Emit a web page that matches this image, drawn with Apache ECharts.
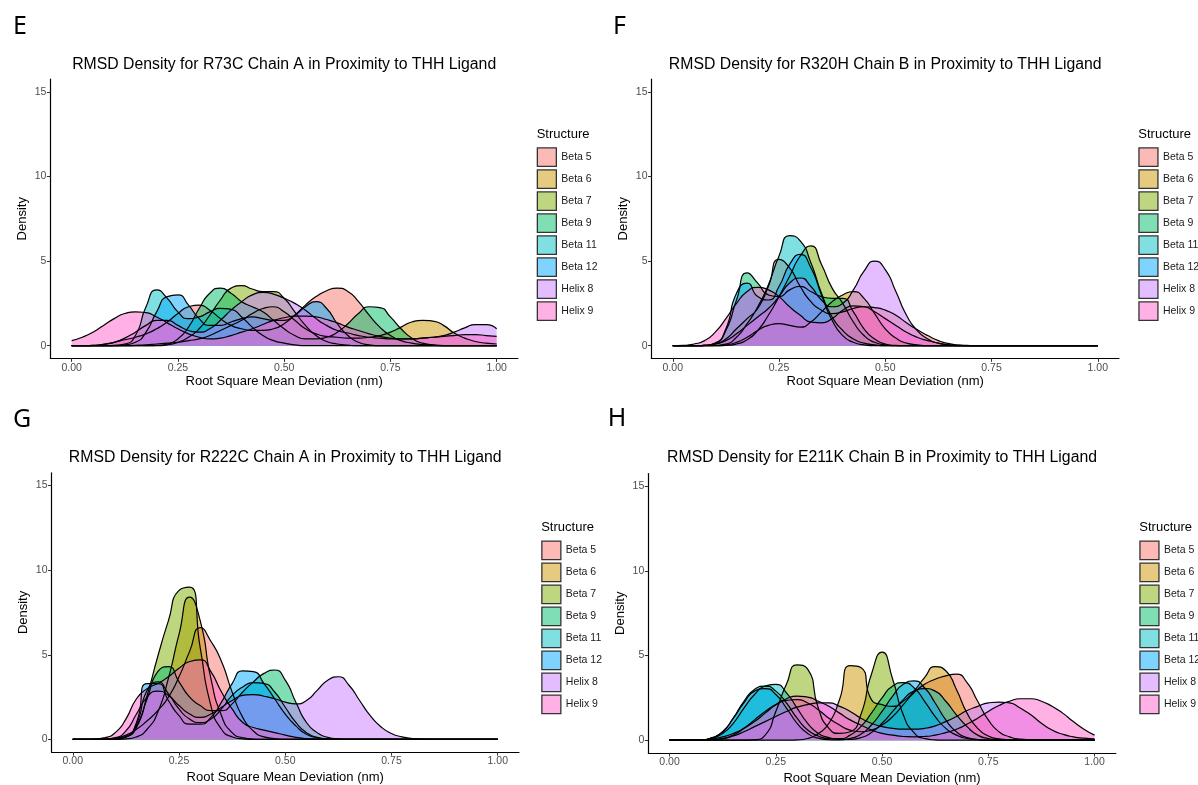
<!DOCTYPE html>
<html>
<head>
<meta charset="utf-8">
<script src="https://cdn.jsdelivr.net/npm/echarts@6/dist/echarts.min.js"></script>
<style>
  html, body { margin: 0; padding: 0; background: #fff; }
  #chart { width: 1198px; height: 785px; }
</style>
</head>
<body>
<div id="chart"></div>
<script>
// Sampling positions of the RMSD axis (nm) shared by every density curve
const rmsd = [0.000, 0.025, 0.050, 0.075, 0.100, 0.125, 0.150, 0.175, 0.200, 0.225,
              0.250, 0.275, 0.300, 0.325, 0.350, 0.375, 0.400, 0.425, 0.450, 0.475,
              0.500, 0.525, 0.550, 0.575, 0.600, 0.625, 0.650, 0.675, 0.700, 0.725,
              0.750, 0.775, 0.800, 0.825, 0.850, 0.875, 0.900, 0.925, 0.950, 0.975, 1.000];

const structures = ['Beta 5', 'Beta 6', 'Beta 7', 'Beta 9', 'Beta 11', 'Beta 12', 'Helix 8', 'Helix 9'];
const structureColors = ['#F8766D', '#CD9600', '#7CAE00', '#00BE67', '#00BFC4', '#00A9FF', '#C77CFF', '#FF61CC'];
const xTickValues = [0, 0.25, 0.5, 0.75, 1];
const yTickValues = [0, 5, 10, 15];

// R73C chain A
const r73cBeta5   = [0,0,0.02,0.08,0.2, 0.35,0.5,0.7,1.0,1.4, 1.9,2.3,2.4,2.1,1.6, 1.2,1.0,0.9,0.9,1.0, 1.3,1.8,2.4,2.9,3.25, 3.4,3.2,2.6,1.8,1.1, 0.6,0.3,0.15,0.07,0.03, 0.01,0,0,0,0, 0];
const r73cBeta6   = [0,0,0,0,0, 0,0.02,0.05,0.1,0.15, 0.2,0.3,0.4,0.6,0.9, 1.2,1.5,1.9,2.2,2.3, 2.0,1.5,1.0,0.7,0.55, 0.5,0.45,0.45,0.5,0.6, 0.8,1.1,1.4,1.5,1.45, 1.2,0.75,0.45,0.25,0.15, 0.1];
const r73cBeta7   = [0,0,0,0,0, 0,0,0,0,0.05, 0.2,0.5,1.0,1.8,2.7, 3.4,3.55,3.35,3.2,3.2, 2.8,2.0,1.2,0.6,0.25, 0.1,0.03,0,0,0, 0,0,0,0,0, 0,0,0,0,0, 0];
const r73cBeta9   = [0,0,0,0,0, 0,0,0,0.02,0.1, 0.4,1.1,2.2,3.1,3.4, 3.1,2.6,2.3,2.0,1.5, 1.0,0.6,0.4,0.4,0.5, 0.8,1.3,1.9,2.3,2.25, 1.7,1.0,0.45,0.15,0.05, 0,0,0,0,0, 0];
const r73cBeta11  = [0,0,0,0,0.02, 0.1,0.6,2.3,3.3,2.8, 2.0,1.6,1.7,2.0,2.2, 2.15,1.7,1.1,0.6,0.3, 0.15,0.05,0,0,0, 0,0,0,0,0, 0,0,0,0,0, 0,0,0,0,0, 0];
const r73cBeta12  = [0,0,0,0,0, 0.05,0.2,0.8,2.0,2.9, 3.0,2.4,1.6,1.2,1.2, 1.4,1.6,1.7,1.6,1.5, 1.5,1.8,2.3,2.6,2.2, 1.3,0.6,0.2,0.05,0, 0,0,0,0,0, 0,0,0,0,0, 0];
const r73cHelix8  = [0,0,0.02,0.08,0.2, 0.45,0.8,1.2,1.5,1.5, 1.2,0.9,0.8,1.0,1.5, 2.1,2.6,3.0,3.15,3.05, 2.8,2.5,2.1,1.6,1.2, 0.9,0.75,0.6,0.5,0.45, 0.4,0.4,0.4,0.45,0.5, 0.6,0.8,1.05,1.25,1.25, 1.0];
const r73cHelix9  = [0.3,0.5,0.8,1.2,1.6, 1.9,2.0,1.95,1.7,1.35, 1.0,0.7,0.5,0.4,0.45, 0.6,0.8,1.0,1.25,1.5, 1.65,1.75,1.75,1.7,1.55, 1.35,1.1,0.9,0.7,0.55, 0.45,0.4,0.4,0.45,0.5, 0.55,0.6,0.65,0.65,0.6, 0.55];

// R320H chain B
const r320hBeta5  = [0,0,0,0.02,0.1, 0.4,1.0,1.6,2.2,3.5, 5.1,4.6,3.5,2.6,2.1, 1.9,2.0,2.2,2.3,2.25, 2.1,1.8,1.35,0.95,0.6, 0.3,0.12,0.04,0.01,0, 0,0,0,0,0, 0,0,0,0,0, 0];
const r320hBeta6  = [0,0,0,0,0, 0.05,0.2,0.5,0.9,1.2, 1.3,1.2,1.1,1.4,2.0, 2.6,3.0,3.2,2.8,1.9, 1.0,0.45,0.15,0.05,0, 0,0,0,0,0, 0,0,0,0,0, 0,0,0,0,0, 0];
const r320hBeta7  = [0,0,0,0,0, 0.02,0.1,0.35,0.9,1.8, 2.9,4.1,5.3,5.9,4.8, 3.4,2.5,1.4,0.6,0.2, 0.05,0,0,0,0, 0,0,0,0,0, 0,0,0,0,0, 0,0,0,0,0, 0];
const r320hBeta9  = [0,0,0,0.02,0.15, 0.9,2.7,4.3,3.7,3.0, 2.9,3.3,3.5,3.2,2.9, 2.8,2.8,2.0,1.0,0.4, 0.1,0.02,0,0,0, 0,0,0,0,0, 0,0,0,0,0, 0,0,0,0,0, 0];
const r320hBeta11 = [0,0,0,0,0.02, 0.1,0.5,1.3,2.3,3.6, 5.3,6.5,6.2,4.9,3.1, 1.7,0.9,0.4,0.15,0.05, 0,0,0,0,0, 0,0,0,0,0, 0,0,0,0,0, 0,0,0,0,0, 0];
const r320hBeta12 = [0,0,0,0.02,0.15, 1.0,3.1,3.7,2.9,2.7, 3.5,4.8,5.4,4.6,3.0, 1.5,0.6,0.2,0.05,0, 0,0,0,0,0, 0,0,0,0,0, 0,0,0,0,0, 0,0,0,0,0, 0];
const r320hHelix8 = [0,0,0,0.02,0.1, 0.3,0.7,1.2,1.7,2.2, 2.9,3.7,4.0,3.5,2.7, 2.3,2.5,3.3,4.4,5.0, 4.5,3.2,1.8,0.9,0.4, 0.15,0.05,0,0,0, 0,0,0,0,0, 0,0,0,0,0, 0];
const r320hHelix9 = [0,0.02,0.1,0.3,0.8, 1.6,2.5,3.2,3.45,3.3, 2.9,2.3,1.8,1.4,1.35, 1.6,2.1,2.35,2.3,2.0, 1.6,1.2,0.8,0.5,0.3, 0.15,0.05,0.02,0,0, 0,0,0,0,0, 0,0,0,0,0, 0];

// R222C chain A
const r222cBeta5  = [0,0,0,0.02,0.08, 0.25,0.6,1.1,1.7,2.5, 3.7,5.2,6.6,5.8,4.6, 2.8,1.3,0.5,0.15,0.05, 0,0,0,0,0, 0,0,0,0,0, 0,0,0,0,0, 0,0,0,0,0, 0];
const r222cBeta6  = [0,0,0,0,0, 0.03,0.15,0.6,1.6,3.6, 6.2,8.4,7.0,3.6,1.4, 0.4,0.1,0.02,0,0, 0,0,0,0,0, 0,0,0,0,0, 0,0,0,0,0, 0,0,0,0,0, 0];
const r222cBeta7  = [0,0,0,0,0.02, 0.15,0.7,2.6,4.9,7.0, 8.8,9.0,5.4,2.0,0.6, 0.15,0.03,0,0,0, 0,0,0,0,0, 0,0,0,0,0, 0,0,0,0,0, 0,0,0,0,0, 0];
const r222cBeta9  = [0,0,0,0,0.03, 0.15,0.8,2.4,4.0,4.3, 3.4,2.5,2.0,1.7,1.7, 2.1,2.8,3.4,3.9,4.1, 3.5,2.2,1.0,0.4,0.12, 0.03,0,0,0,0, 0,0,0,0,0, 0,0,0,0,0, 0];
const r222cBeta11 = [0,0,0,0,0.03, 0.15,0.9,2.9,3.4,2.7, 1.8,1.2,1.0,1.2,1.8, 2.6,3.1,3.35,3.3,2.8, 1.9,1.0,0.4,0.12,0.03, 0,0,0,0,0, 0,0,0,0,0, 0,0,0,0,0, 0];
const r222cBeta12 = [0,0,0,0,0.03, 0.15,1.0,3.3,3.3,2.3, 1.4,0.9,0.9,1.3,2.2, 3.3,4.05,4.0,3.3,2.4, 1.5,0.8,0.3,0.1,0.02, 0,0,0,0,0, 0,0,0,0,0, 0,0,0,0,0, 0];
const r222cHelix8 = [0,0,0,0.02,0.1, 0.5,1.5,2.5,2.85,2.6, 2.0,1.5,1.3,1.5,1.9, 2.3,2.6,2.65,2.55,2.4, 2.2,2.1,2.3,2.9,3.5, 3.7,3.2,2.3,1.4,0.75, 0.35,0.15,0.05,0.02,0, 0,0,0,0,0, 0];
const r222cHelix9 = [0,0,0.02,0.1,0.4, 1.2,2.4,3.0,3.3,3.7, 4.2,4.6,4.7,4.0,2.8, 1.8,1.0,0.7,0.55,0.4, 0.25,0.12,0.05,0.02,0, 0,0,0,0,0, 0,0,0,0,0, 0,0,0,0,0, 0];

// E211K chain B
const e211kBeta5  = [0,0,0,0,0.02, 0.1,0.3,0.7,1.2,1.7, 2.1,2.35,2.4,2.2,1.8, 1.3,0.9,0.6,0.5,0.6, 0.9,1.4,2.1,2.8,3.3, 3.6,3.8,3.9,3.4,2.3, 1.2,0.5,0.2,0.06,0.02, 0,0,0,0,0, 0];
const e211kBeta6  = [0,0,0,0,0, 0,0,0,0,0, 0,0,0.02,0.1,0.4, 1.0,2.4,4.4,4.3,2.4, 2.1,2.0,2.3,2.9,3.7, 4.35,4.1,3.0,1.6,0.7, 0.25,0.08,0.02,0,0, 0,0,0,0,0, 0];
const e211kBeta7  = [0,0,0,0,0, 0,0,0,0.03,0.3, 1.7,3.3,4.45,4.2,1.9, 0.7,0.4,0.5,1.5,3.9, 5.2,3.6,1.5,0.45,0.1, 0.02,0,0,0,0, 0,0,0,0,0, 0,0,0,0,0, 0];
const e211kBeta9  = [0,0,0,0.02,0.15, 0.5,1.3,2.3,3.0,3.2, 2.9,2.2,1.3,0.6,0.25, 0.1,0.1,0.3,0.8,1.6, 2.5,3.2,3.4,3.1,2.3, 1.4,0.7,0.3,0.1,0.03, 0,0,0,0,0, 0,0,0,0,0, 0];
const e211kBeta11 = [0,0,0,0.02,0.12, 0.4,1.0,1.9,2.7,3.2, 3.3,2.8,1.9,1.0,0.4, 0.15,0.05,0.05,0.15,0.45, 1.0,1.7,2.4,2.9,3.05, 2.9,2.3,1.5,0.8,0.3, 0.1,0.03,0,0,0, 0,0,0,0,0, 0];
const e211kBeta12 = [0,0,0,0.02,0.15, 0.5,1.3,2.2,2.9,3.05, 2.7,1.9,1.0,0.4,0.12, 0.03,0.02,0.1,0.35,0.9, 1.7,2.6,3.3,3.5,3.1, 2.2,1.2,0.5,0.15,0.04, 0,0,0,0,0, 0,0,0,0,0, 0];
const e211kHelix8 = [0,0,0,0,0.02, 0.08,0.25,0.5,0.8,1.1, 1.4,1.7,1.95,2.1,2.2, 2.2,2.0,1.7,1.3,1.0, 0.8,0.7,0.65,0.65,0.7, 0.85,1.1,1.4,1.75,2.0, 2.2,2.25,2.2,1.9,1.5, 1.0,0.6,0.35,0.2,0.12, 0.08];
const e211kHelix9 = [0,0,0.01,0.03,0.08, 0.2,0.4,0.7,1.1,1.6, 2.1,2.45,2.6,2.55,2.3, 2.0,1.6,1.2,0.9,0.6, 0.4,0.3,0.22,0.2,0.22, 0.3,0.45,0.65,0.95,1.3, 1.7,2.05,2.3,2.45,2.45, 2.3,2.0,1.6,1.1,0.65, 0.3];

// Panel layout: plotting area and legend placement for each variant
const panels = [
  { letter: 'E', title: 'RMSD Density for R73C Chain A in Proximity to THH Ligand',
    curves: [r73cBeta5, r73cBeta6, r73cBeta7, r73cBeta9, r73cBeta11, r73cBeta12, r73cHelix8, r73cHelix9],
    left: 50.4, top: 79.1, letterX: 13, letterY: 26.5, titleY: 65, xTitleY: 381.7, legendLeft: 536.7, legendTop: 147.3 },
  { letter: 'F', title: 'RMSD Density for R320H Chain B in Proximity to THH Ligand',
    curves: [r320hBeta5, r320hBeta6, r320hBeta7, r320hBeta9, r320hBeta11, r320hBeta12, r320hHelix8, r320hHelix9],
    left: 651.5, top: 79.1, letterX: 613, letterY: 26.5, titleY: 65, xTitleY: 381.7, legendLeft: 1138.3, legendTop: 147.3 },
  { letter: 'G', title: 'RMSD Density for R222C Chain A in Proximity to THH Ligand',
    curves: [r222cBeta5, r222cBeta6, r222cBeta7, r222cBeta9, r222cBeta11, r222cBeta12, r222cHelix8, r222cHelix9],
    left: 51.5, top: 472.8, letterX: 13, letterY: 420, titleY: 457.3, xTitleY: 777, legendLeft: 541.2, legendTop: 540.5 },
  { letter: 'H', title: 'RMSD Density for E211K Chain B in Proximity to THH Ligand',
    curves: [e211kBeta5, e211kBeta6, e211kBeta7, e211kBeta9, e211kBeta11, e211kBeta12, e211kHelix8, e211kHelix9],
    left: 648.3, top: 473.6, letterX: 607.7, letterY: 419, titleY: 457.3, xTitleY: 778, legendLeft: 1139.3, legendTop: 540.5 }
];

const PLOT_W = 467.5;   // x range -0.05 .. 1.05
const PLOT_H = 279.3;   // y range -0.75 .. 15.75
const FONT = '"Liberation Sans", Arial, Helvetica, sans-serif';

function withAlpha(hex, a) {
  const n = parseInt(hex.slice(1), 16);
  return 'rgba(' + ((n >> 16) & 255) + ',' + ((n >> 8) & 255) + ',' + (n & 255) + ',' + a + ')';
}

function text(x, y, str, font, align, vAlign, extra) {
  return Object.assign({
    type: 'text', x: x, y: y, silent: true,
    style: { x: 0, y: 0, text: str, font: font, fill: '#000',
             textAlign: align, align: align, textVerticalAlign: vAlign, verticalAlign: vAlign }
  }, extra || {});
}

const option = {
  animation: false,
  backgroundColor: '#fff',
  textStyle: { fontFamily: FONT },
  grid: [], xAxis: [], yAxis: [], legend: [], series: [], graphic: []
};

panels.forEach((p, i) => {
  option.grid.push({ left: p.left, top: p.top, width: PLOT_W, height: PLOT_H });

  option.xAxis.push({
    type: 'value', gridIndex: i, min: -0.05, max: 1.05,
    splitLine: { show: false },
    axisLine: { onZero: false, lineStyle: { color: '#000', width: 1.2 } },
    axisTick: { customValues: xTickValues, length: 3.5, lineStyle: { color: '#333', width: 1 } },
    axisLabel: { customValues: xTickValues, formatter: v => v.toFixed(2), color: '#4d4d4d',
                 fontSize: 10.5, fontFamily: FONT, margin: 4 }
  });

  option.yAxis.push({
    type: 'value', gridIndex: i, min: -0.75, max: 15.75,
    splitLine: { show: false },
    axisLine: { onZero: false, lineStyle: { color: '#000', width: 1.2 } },
    axisTick: { customValues: yTickValues, length: 3.5, lineStyle: { color: '#333', width: 1 } },
    axisLabel: { customValues: yTickValues, formatter: v => String(v), color: '#4d4d4d',
                 fontSize: 10.5, fontFamily: FONT, margin: 4 }
  });

  option.legend.push({
    orient: 'vertical', left: p.legendLeft, top: p.legendTop, padding: 0,
    icon: 'rect', itemWidth: 19, itemHeight: 18.5, itemGap: 2.2, selectedMode: false,
    textStyle: { fontSize: 10.5, color: '#1a1a1a', fontFamily: FONT },
    data: structures.map((s, k) => ({
      name: s,
      itemStyle: { color: withAlpha(structureColors[k], 0.5), borderColor: '#333', borderWidth: 1.3 }
    }))
  });

  p.curves.forEach((vals, k) => {
    option.series.push({
      type: 'line', name: structures[k], xAxisIndex: i, yAxisIndex: i,
      data: rmsd.map((x, j) => [x, vals[j]]),
      smooth: 0.6, symbol: 'none', showSymbol: false, silent: true,
      itemStyle: { color: structureColors[k] },
      lineStyle: { color: '#000', width: 1.2 },
      areaStyle: { color: structureColors[k], opacity: 0.5 },
      emphasis: { disabled: true }
    });
  });

  const cx = p.left + PLOT_W / 2;
  const cy = p.top + PLOT_H / 2;
  option.graphic.push(text(p.letterX, p.letterY, p.letter, '400 25px "Noto Sans", "DejaVu Sans", sans-serif', 'left', 'middle'));
  option.graphic.push(text(cx, p.titleY, p.title, '15.8px ' + FONT, 'center', 'middle'));
  option.graphic.push(text(cx, p.xTitleY, 'Root Square Mean Deviation (nm)', '13px ' + FONT, 'center', 'middle'));
  option.graphic.push(text(p.left - 27.7, cy, 'Density', '13px ' + FONT, 'center', 'middle', { rotation: Math.PI / 2 }));
  option.graphic.push(text(p.legendLeft, p.legendTop - 13.3, 'Structure', '13px ' + FONT, 'left', 'middle'));
});

const chart = echarts.init(document.getElementById('chart'), null, { renderer: 'canvas' });
chart.setOption(option);
</script>
</body>
</html>
